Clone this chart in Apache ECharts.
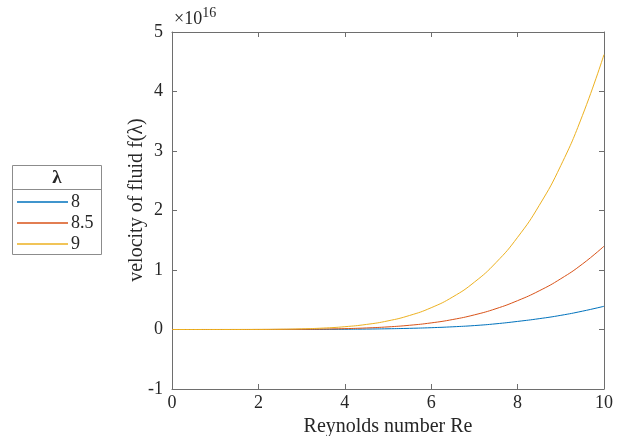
<!DOCTYPE html>
<html>
<head>
<meta charset="utf-8">
<script src="https://cdn.jsdelivr.net/npm/echarts@6/dist/echarts.min.js"></script>
<style>
  html, body { margin: 0; padding: 0; background: #fff; }
  #chart { width: 617px; height: 436px; }
</style>
</head>
<body>
<div id="chart"></div>
<script>
// Reynolds number samples
var reynolds = [0, 0.5, 1, 1.5, 2, 2.5, 3, 3.5, 4, 4.5, 5, 5.5, 6, 6.5, 7, 7.5, 8, 8.5, 9, 9.5, 10];

// velocity f(lambda), in units of 1e16
var lambda8 = [0, 0, 0, 0.00003, 0.0001, 0.0004, 0.0009, 0.0020, 0.0040, 0.0072, 0.0122, 0.0196, 0.0303, 0.0455, 0.066, 0.096, 0.136, 0.182, 0.238, 0.308, 0.39];
var lambda85 = [0, 0, 0.00001, 0.0001, 0.0004, 0.0014, 0.0034, 0.0074, 0.0143, 0.026, 0.044, 0.071, 0.111, 0.168, 0.246, 0.350, 0.485, 0.650, 0.853, 1.100, 1.40];
var lambda9 = [0, 0, 0.00005, 0.0004, 0.0015, 0.0045, 0.011, 0.024, 0.047, 0.085, 0.145, 0.236, 0.366, 0.548, 0.796, 1.125, 1.550, 2.085, 2.755, 3.595, 4.62];

var seriesNames = ['8', '8.5', '9'];
var seriesData = [lambda8, lambda85, lambda9];
var seriesColors = ['#0072BD', '#D95319', '#EDB120'];

var serif = '"Liberation Serif", "Times New Roman", serif';
var axisGray = '#6e6e6e';
var textColor = '#262626';

function pairs(xs, ys) {
  return xs.map(function (x, i) { return [x, ys[i]]; });
}

var chart = echarts.init(document.getElementById('chart'), null, { renderer: 'canvas' });

var grid = { left: 172, right: 13, top: 32, bottom: 47, containLabel: false, outerBoundsMode: 'none' };

var option = {
  animation: false,
  backgroundColor: '#fff',
  grid: grid,
  xAxis: [{
    type: 'value', min: 0, max: 10, interval: 2,
    position: 'bottom',
    axisLine: { show: true, onZero: false, lineStyle: { color: axisGray, width: 1 } },
    axisTick: { show: true, inside: true, length: 5, lineStyle: { color: axisGray } },
    axisLabel: { margin: 5, color: textColor, fontFamily: serif, fontSize: 18 },
    splitLine: { show: false },
    name: 'Reynolds number Re', nameLocation: 'middle', nameGap: 23,
    nameTextStyle: { color: textColor, fontFamily: serif, fontSize: 20 }
  }, {
    type: 'value', min: 0, max: 10, interval: 2,
    position: 'top',
    axisLine: { show: true, onZero: false, lineStyle: { color: axisGray, width: 1 } },
    axisTick: { show: true, inside: true, length: 5, lineStyle: { color: axisGray } },
    axisLabel: { show: false },
    splitLine: { show: false }
  }],
  yAxis: [{
    type: 'value', min: -1, max: 5, interval: 1,
    position: 'left',
    axisLine: { show: true, onZero: false, lineStyle: { color: axisGray, width: 1 } },
    axisTick: { show: true, inside: true, length: 5, lineStyle: { color: axisGray } },
    axisLabel: { margin: 9, color: textColor, fontFamily: serif, fontSize: 18 },
    splitLine: { show: false }
  }, {
    type: 'value', min: -1, max: 5, interval: 1,
    position: 'right',
    axisLine: { show: true, onZero: false, lineStyle: { color: axisGray, width: 1 } },
    axisTick: { show: true, inside: true, length: 5, lineStyle: { color: axisGray } },
    axisLabel: { show: false },
    splitLine: { show: false }
  }],
  legend: {
    orient: 'vertical',
    left: 17, top: 193,
    itemWidth: 51, itemHeight: 1.5, itemGap: 3,
    icon: 'rect',
    padding: 0,
    textStyle: { color: textColor, fontFamily: serif, fontSize: 18, lineHeight: 17, padding: [0, 0, 0, -2] },
    data: seriesNames
  },
  series: seriesNames.map(function (name, i) {
    return {
      name: name,
      type: 'line',
      xAxisIndex: 0, yAxisIndex: 0,
      data: pairs(reynolds, seriesData[i]),
      smooth: true,
      showSymbol: false,
      symbol: 'none',
      color: seriesColors[i],
      lineStyle: { color: seriesColors[i], width: 1 }
    };
  }),
  graphic: [
    {
      type: 'text', left: 174, top: 6,
      style: {
        text: '{m|×10}{s|16}',
        rich: {
          m: { fontFamily: serif, fontSize: 18, fill: textColor, verticalAlign: 'bottom', lineHeight: 22 },
          s: { fontFamily: serif, fontSize: 14, fill: textColor, verticalAlign: 'top', lineHeight: 22, padding: [0, 0, 7, 0] }
        }
      }
    },
    {
      type: 'text',
      x: 137, y: 200,
      rotation: Math.PI / 2,
      style: {
        text: 'velocity of fluid f(λ)',
        fontFamily: serif, fontSize: 20, fill: textColor,
        align: 'center', verticalAlign: 'middle'
      }
    },
    {
      type: 'rect',
      shape: { x: 12.5, y: 165.5, width: 89, height: 89 },
      style: { fill: null, stroke: '#8c8c8c', lineWidth: 1 },
      z: 0
    },
    {
      type: 'line',
      shape: { x1: 12.5, y1: 189.5, x2: 101.5, y2: 189.5 },
      style: { stroke: '#8c8c8c', lineWidth: 1 }
    },
    {
      type: 'text', x: 57, y: 178,
      style: {
        text: 'λ', fontFamily: serif, fontSize: 19, fontWeight: 'bold', fill: textColor,
        align: 'center', verticalAlign: 'middle'
      }
    }
  ]
};

chart.setOption(option);
</script>
</body>
</html>
